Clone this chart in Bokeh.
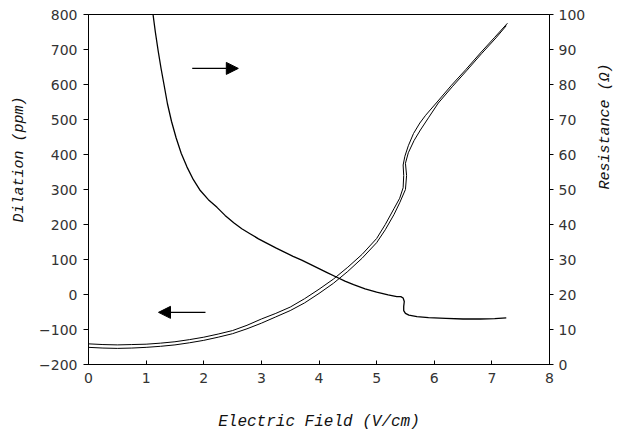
import math
from bokeh.plotting import figure
from bokeh.models import Range1d, LinearAxis, FixedTicker, Arrow, NormalHead, Title
from bokeh.embed import file_html
from bokeh.resources import INLINE

# ---- data ----
field_up = [0, 0.25, 0.5, 0.75, 1.0, 1.25, 1.5, 1.75, 2.0, 2.25, 2.5, 2.75, 3.0, 3.25, 3.5, 3.75,
            4.0, 4.25, 4.5, 4.75, 5.0, 5.15, 5.3, 5.4, 5.46, 5.47, 5.46, 5.49, 5.55, 5.64, 5.75,
            5.85, 6.05, 6.3, 6.55, 6.8, 7.05, 7.27]
dilation_up = [-141, -143, -144, -143, -142, -139, -135, -129, -122, -113, -103, -88, -70, -54, -36, -12,
               15, 44, 78, 115, 160, 200, 245, 275, 305, 340, 370, 395, 425, 460, 490,
               512, 550, 598, 643, 690, 735, 775]

field_down = [0, 0.25, 0.5, 0.75, 1.0, 1.25, 1.5, 1.75, 2.0, 2.25, 2.5, 2.75, 3.0, 3.25, 3.5, 3.75,
              4.0, 4.25, 4.5, 4.75, 5.0, 5.15, 5.3, 5.4, 5.5, 5.52, 5.5, 5.55, 5.65, 5.76,
              5.9, 6.07, 6.32, 6.57, 6.82, 7.07, 7.25]
dilation_down = [-151, -153, -154, -153, -151, -148, -144, -138, -131, -122, -112, -98, -82, -64, -46, -24,
                 3, 32, 66, 104, 148, 185, 228, 262, 300, 340, 375, 405, 440, 470,
                 505, 547, 595, 641, 688, 733, 768]

field_res = [1.12, 1.16, 1.21, 1.26, 1.31, 1.37, 1.44, 1.52, 1.61, 1.71, 1.82, 1.94, 2.08, 2.23, 2.37,
             2.52, 2.66, 2.81, 2.95, 3.1, 3.25, 3.4, 3.55, 3.7, 3.85, 4.0, 4.15, 4.3, 4.45, 4.6,
             4.8, 5.0, 5.2, 5.35, 5.42, 5.46, 5.48, 5.47, 5.47, 5.5, 5.56, 5.7, 5.9, 6.2, 6.5,
             6.8, 7.05, 7.25]
resistance = [100, 95, 89.5, 84.5, 80, 74.5, 69.5, 64.8, 60.3, 56.4, 52.8, 49.7, 47.1, 44.9, 42.6,
              40.5, 38.8, 37.3, 35.9, 34.6, 33.3, 32.1, 30.9, 29.8, 28.6, 27.4, 26.2, 25.0, 23.8, 22.8,
              21.6, 20.7, 19.9, 19.4, 19.4, 19.0, 18.0, 16.6, 15.4, 14.6, 14.1, 13.7, 13.4, 13.2, 13.0,
              13.0, 13.1, 13.3]

x_ticks = [0, 1, 2, 3, 4, 5, 6, 7, 8]
dil_ticks = [-200, -100, 0, 100, 200, 300, 400, 500, 600, 700, 800]
res_ticks = [0, 10, 20, 30, 40, 50, 60, 70, 80, 90, 100]

# arrows (data coordinates): upper points right (resistance), lower points left (dilation)
arrow_res = dict(x_start=1.80, x_end=2.60, y=646)
arrow_dil = dict(x_start=2.03, x_end=1.215, y=-51)

TICK_FONT = "DejaVu Sans"
LABEL_FONT = "Liberation Mono"

p = figure(width=625, height=433, output_backend="svg", toolbar_location=None,
           x_range=Range1d(0, 8), y_range=Range1d(-200, 800),
           min_border_left=88, min_border_right=76, min_border_top=14, min_border_bottom=69)
p.extra_y_ranges = {"res": Range1d(0, 100)}

p.xgrid.visible = False
p.ygrid.visible = False
p.outline_line_color = "black"
p.outline_line_width = 1
p.background_fill_color = "white"
p.border_fill_color = "white"

def style_axis(ax, tin, tout, standoff):
    ax.major_label_text_font = TICK_FONT
    ax.major_label_text_font_size = "14px"
    ax.major_label_text_color = "#333333"
    ax.major_tick_in = tin
    ax.major_tick_out = tout
    ax.minor_tick_line_color = None
    ax.axis_line_color = "black"
    ax.major_tick_line_color = "black"
    ax.major_label_standoff = standoff
    ax.axis_label_text_font = LABEL_FONT
    ax.axis_label_text_font_style = "italic"
    ax.axis_label_text_color = "#111111"

p.xaxis.ticker = FixedTicker(ticks=x_ticks)
p.yaxis.ticker = FixedTicker(ticks=dil_ticks)
style_axis(p.xaxis[0], 4, 0, 8)
style_axis(p.yaxis[0], 0, 5, 6)
p.xaxis.axis_label = "Electric Field (V/cm)"
p.xaxis.axis_label_text_font_size = "16px"
p.xaxis.axis_label_standoff = 27

raxis = LinearAxis(y_range_name="res", ticker=FixedTicker(ticks=res_ticks))
style_axis(raxis, 0, 4, 5)
raxis.axis_label = "Resistance (Ω)"
raxis.axis_label_text_font_size = "15px"
raxis.axis_label_standoff = 17
raxis.axis_label_orientation = math.pi / 2
p.add_layout(raxis, "right")

left_title = Title(text="Dilation (ppm)", align="left", offset=142, standoff=17,
                   text_font=LABEL_FONT, text_font_style="italic", text_font_size="15px",
                   text_color="#111111")
p.add_layout(left_title, "left")

# curves
p.line(field_up, dilation_up, line_color="black", line_width=1)
p.line(field_down, dilation_down, line_color="black", line_width=1)
p.line(field_res, resistance, line_color="black", line_width=1.3, y_range_name="res")

for a in (arrow_res, arrow_dil):
    p.add_layout(Arrow(end=NormalHead(size=12, fill_color="black", line_color="black"),
                       x_start=a["x_start"], y_start=a["y"], x_end=a["x_end"], y_end=a["y"],
                       line_color="black", line_width=1.2))

open("out.html", "w").write(file_html(p, INLINE))
